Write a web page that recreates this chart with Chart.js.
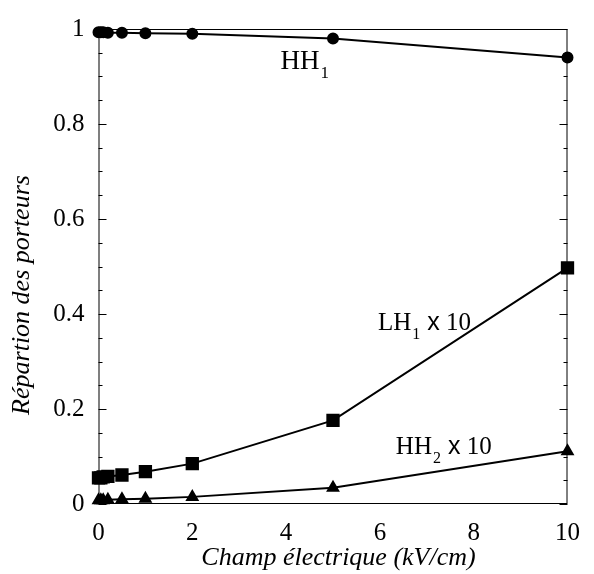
<!DOCTYPE html>
<html>
<head>
<meta charset="utf-8">
<script src="https://cdn.jsdelivr.net/npm/chart.js@4.4.1/dist/chart.umd.min.js"></script>
<style>
  html, body { margin: 0; padding: 0; background: #fff; }
  #wrap { width: 594px; height: 574px; }
</style>
</head>
<body>
<div id="wrap"><canvas id="myChart"></canvas></div>
<script>
const ctx = document.getElementById('myChart');

// champ electrique (kV/cm)
const champ = [0, 0.05, 0.1, 0.2, 0.5, 1, 2, 5, 10];
const hh1 = [0.993, 0.993, 0.993, 0.992, 0.992, 0.991, 0.990, 0.980, 0.940];
const lh1x10 = [0.055, 0.055, 0.057, 0.058, 0.061, 0.068, 0.085, 0.176, 0.497];
const hh2x10 = [0.008, 0.008, 0.008, 0.009, 0.010, 0.011, 0.015, 0.034, 0.111];

const xTicks = [0, 2, 4, 6, 8, 10];
const yTicks = [0, 0.2, 0.4, 0.6, 0.8, 1];

// etiquettes des courbes (position en unites des axes)
const etiquettes = [
  { main: 'HH', sub: '1', suffix: '', x: 3.88, y: 0.9155, size: 27 },
  { main: 'LH', sub: '1', suffix: ' 10', x: 5.96, y: 0.367, size: 25 },
  { main: 'HH', sub: '2', suffix: ' 10', x: 6.34, y: 0.106, size: 25 }
];

const serif = '"Liberation Serif", "Times New Roman", serif';

function pts(ys) {
  return champ.map((x, i) => ({ x: x, y: ys[i] }));
}

const cadre = {
  id: 'cadre',
  afterDraw(chart) {
    const c = chart.ctx;
    const a = chart.chartArea;
    const ys = chart.scales.y;
    c.save();
    c.strokeStyle = '#000';
    c.lineWidth = 1;
    c.strokeRect(a.left + 0.5, a.top + 0.5, a.right - a.left - 1, a.bottom - a.top - 1);
    // petites graduations sur les deux axes verticaux
    c.beginPath();
    for (let v = 0; v <= 1.0001; v += 0.05) {
      const py = Math.round(ys.getPixelForValue(v)) + 0.5;
      const major = Math.abs(v / 0.2 - Math.round(v / 0.2)) < 1e-6;
      const len = major ? 8 : 4;
      c.moveTo(a.left, py); c.lineTo(a.left + len, py);
      c.moveTo(a.right, py); c.lineTo(a.right - len, py);
    }
    c.stroke();

    // titres des axes
    c.fillStyle = '#000';
    c.font = 'italic 26px ' + serif;
    c.textAlign = 'center';
    c.textBaseline = 'middle';
    c.fillText('Champ électrique (kV/cm)', 338.5, 558);
    c.translate(22, 295);
    c.rotate(-Math.PI / 2);
    c.fillText('Répartion des porteurs', 0, 0);
    c.restore();

    // etiquettes des courbes
    c.save();
    c.fillStyle = '#000';
    c.textBaseline = 'alphabetic';
    c.textAlign = 'left';
    etiquettes.forEach(e => {
      let px = chart.scales.x.getPixelForValue(e.x);
      const py = chart.scales.y.getPixelForValue(e.y);
      c.font = e.size + 'px ' + serif;
      c.fillText(e.main, px, py);
      px += c.measureText(e.main).width + 1;
      c.font = Math.round(e.size * 0.62) + 'px ' + serif;
      c.fillText(e.sub, px, py + 9);
      px += c.measureText(e.sub).width;
      if (e.suffix) {
        px += 7;
        c.font = e.size + 'px "Liberation Sans", Arial, sans-serif';
        c.fillText('x', px, py);
        px += c.measureText('x').width;
        c.font = e.size + 'px ' + serif;
        c.fillText(e.suffix, px, py);
      }
    });
    c.restore();
  }
};

const myChart = new Chart(ctx, {
  type: 'scatter',
  data: {
    datasets: [
      {
        label: 'HH1',
        data: pts(hh1),
        showLine: true,
        borderColor: '#000',
        backgroundColor: '#000',
        borderWidth: 2,
        pointStyle: 'circle',
        pointRadius: 5,
        pointHoverRadius: 5
      },
      {
        label: 'LH1 x 10',
        data: pts(lh1x10),
        showLine: true,
        borderColor: '#000',
        backgroundColor: '#000',
        borderWidth: 2,
        pointStyle: 'rect',
        pointRadius: 8,
        pointHoverRadius: 8
      },
      {
        label: 'HH2 x 10',
        data: pts(hh2x10),
        showLine: true,
        borderColor: '#000',
        backgroundColor: '#000',
        borderWidth: 2,
        pointStyle: 'triangle',
        pointRadius: 6,
        pointHoverRadius: 6
      }
    ]
  },
  options: {
    responsive: true,
    maintainAspectRatio: false,
    animation: false,
    clip: false,
    plugins: {
      legend: { display: false },
      tooltip: { enabled: false }
    },
    layout: {
      padding: { left: 0, right: 15, top: 24, bottom: 0 }
    },
    scales: {
      x: {
        type: 'linear',
        min: 0,
        max: 10,
        afterFit(scale) { scale.height = 70; },
        afterBuildTicks(scale) { scale.ticks = xTicks.map(v => ({ value: v })); },
        grid: { display: false, drawTicks: false },
        border: { display: false },
        ticks: { color: '#000', padding: 14, font: { family: serif, size: 25 }, callback: v => String(v) }
      },
      y: {
        type: 'linear',
        min: 0,
        max: 1,
        afterFit(scale) { scale.width = 98.5; },
        afterBuildTicks(scale) { scale.ticks = yTicks.map(v => ({ value: v })); },
        grid: { display: false, drawTicks: false },
        border: { display: false },
        ticks: { color: '#000', padding: 14, font: { family: serif, size: 25 }, callback: v => String(v) }
      }
    }
  },
  plugins: [cadre]
});
</script>
</body>
</html>
